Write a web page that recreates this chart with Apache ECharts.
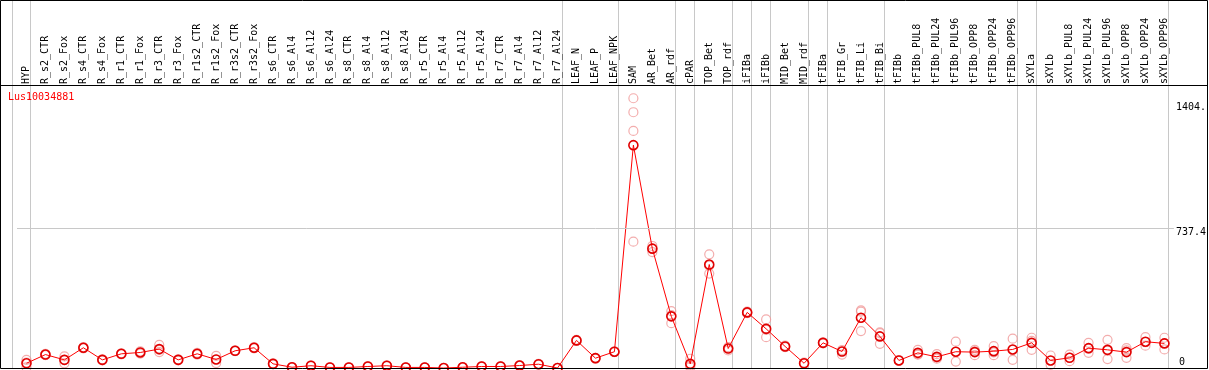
<!DOCTYPE html>
<html>
<head>
<meta charset="utf-8">
<script src="https://cdn.jsdelivr.net/npm/echarts@6/dist/echarts.min.js"></script>
<style>
  html, body { margin: 0; padding: 0; background: #fff; }
  #chart { width: 1209px; height: 370px; }
</style>
</head>
<body>
<div id="chart"></div>
<script>
// categories (samples)
const categories = ['HYP', 'R_s2_CTR', 'R_s2_Fox', 'R_s4_CTR', 'R_s4_Fox', 'R_r1_CTR', 'R_r1_Fox', 'R_r3_CTR', 'R_r3_Fox',
  'R_r1s2_CTR', 'R_r1s2_Fox', 'R_r3s2_CTR', 'R_r3s2_Fox', 'R_s6_CTR', 'R_s6_Al4', 'R_s6_Al12', 'R_s6_Al24',
  'R_s8_CTR', 'R_s8_Al4', 'R_s8_Al12', 'R_s8_Al24', 'R_r5_CTR', 'R_r5_Al4', 'R_r5_Al12', 'R_r5_Al24',
  'R_r7_CTR', 'R_r7_Al4', 'R_r7_Al12', 'R_r7_Al24', 'LEAF_N', 'LEAF_P', 'LEAF_NPK', 'SAM', 'AR_Bet', 'AR_rdf',
  'cPAR', 'TOP_Bet', 'TOP_rdf', 'iFIBa', 'iFIBb', 'MID_Bet', 'MID_rdf', 'tFIBa', 'tFIB_Gr', 'tFIB_Li', 'tFIB_Bi',
  'tFIBb', 'tFIBb_PUL8', 'tFIBb_PUL24', 'tFIBb_PUL96', 'tFIBb_OPP8', 'tFIBb_OPP24', 'tFIBb_OPP96',
  'sXYLa', 'sXYLb', 'sXYLb_PUL8', 'sXYLb_PUL24', 'sXYLb_PUL96', 'sXYLb_OPP8', 'sXYLb_OPP24', 'sXYLb_OPP96'];

// mean expression per sample
const means = [25, 71, 43, 107, 43, 75, 82, 100, 43, 75, 45, 91, 107, 22, 4, 12, 3, 3, 8, 12, 3, 3, 0, 4, 8, 8, 13, 20, 0,
  146, 52, 86, 1178, 631, 273, 22, 547, 103, 294, 207, 114, 25, 133, 87, 266, 167,
  40, 80, 59, 86, 84, 89, 98, 133, 40, 54, 105, 96, 84, 139, 130];

// replicate values per sample
const replicates = [
  [43, 28, 4], [68, 71, 75], [61, 43, 25], [104, 107, 110], [40, 43, 46], [72, 75, 78], [88, 82, 76], [122, 96, 84],
  [40, 43, 46], [70, 75, 80], [64, 45, 26], [89, 91, 93], [104, 107, 110], [20, 22, 24], [3, 4, 5], [10, 12, 14],
  [2, 3, 4], [2, 3, 4], [6, 8, 10], [10, 12, 14], [2, 3, 4], [2, 3, 4], [0, 0, 1], [3, 4, 5], [6, 8, 10], [6, 8, 10],
  [11, 13, 15], [18, 20, 22], [0, 0, 1],
  [143, 146, 149], [50, 52, 54], [84, 86, 88], [1426, 1352, 1253, 668], [645, 631, 613], [301, 280, 237],
  [49, 13, 4], [601, 541, 499], [110, 103, 93], [298, 294, 290], [257, 201, 163], [118, 114, 110], [28, 25, 22],
  [136, 133, 130], [95, 87, 71], [305, 298, 195], [184, 189, 128],
  [38, 40, 42], [96, 73, 71], [73, 55, 49], [139, 85, 34], [96, 88, 68], [116, 83, 68], [155, 96, 43],
  [160, 143, 96], [66, 37, 17], [71, 55, 36], [133, 102, 80], [149, 92, 47], [105, 93, 54], [163, 136, 118],
  [160, 132, 98]
];

// group separators: drawn just right of these samples ('' = before the first one)
const separatorsAfter = ['', 'HYP', 'R_r7_Al24', 'LEAF_NPK', 'AR_rdf', 'cPAR', 'TOP_rdf', 'iFIBa', 'iFIBb',
  'MID_rdf', 'tFIBa', 'tFIB_Bi', 'tFIBb_OPP96', 'sXYLa', 'sXYLb_OPP96'];

const yMax = 1474.8;
const yMid = 737.4;
const yTop = 1404;

const FONT = 'DejaVu Sans Mono';

const repData = [];
replicates.forEach((vals, i) => vals.forEach(v => repData.push([i, v])));

const chart = echarts.init(document.getElementById('chart'));

const option = {
  animation: false,
  backgroundColor: '#fff',
  title: {
    text: 'Lus10034881',
    left: 8,
    top: 92,
    padding: 0,
    textStyle: { color: '#ff0000', fontSize: 10, fontWeight: 'normal', fontFamily: FONT }
  },
  grid: { left: 17, top: 89, width: 1159, height: 279 },
  xAxis: {
    type: 'category',
    position: 'top',
    data: categories,
    boundaryGap: true,
    axisLine: { show: false },
    axisTick: { show: false },
    splitLine: { show: false },
    axisLabel: {
      rotate: 90,
      interval: 0,
      margin: 5,
      color: '#000',
      fontSize: 10,
      fontFamily: FONT
    }
  },
  yAxis: [
    {
      type: 'value',
      position: 'right',
      min: 0,
      max: yMax,
      interval: yMid,
      axisLine: { show: false },
      axisTick: { show: false },
      splitLine: { show: false },
      axisLabel: {
        margin: 2,
        color: '#000',
        fontSize: 10,
        fontFamily: FONT,
        formatter: v => v === 0 ? '{b|0}' : (Math.abs(v - yMid) < 0.01 ? '{a|737.4}' : ''),
        rich: {
          a: { fontSize: 10, fontFamily: FONT, color: '#000', padding: [8, 0, 0, 0] },
          b: { fontSize: 10, fontFamily: FONT, color: '#000', padding: [0, 0, 12, 3] }
        }
      }
    },
    {
      type: 'value',
      position: 'right',
      min: 0,
      max: yMax,
      interval: yTop,
      axisLine: { show: false },
      axisTick: { show: false },
      splitLine: { show: false },
      axisLabel: {
        margin: 2,
        color: '#000',
        fontSize: 10,
        fontFamily: FONT,
        formatter: v => v === yTop ? '{a|1404.}' : '',
        rich: {
          a: { fontSize: 10, fontFamily: FONT, color: '#000', padding: [10, 0, 0, 0] }
        }
      }
    }
  ],
  series: [
    {
      name: 'replicates',
      type: 'scatter',
      data: repData,
      symbol: 'circle',
      symbolSize: 9,
      z: 2,
      silent: true,
      itemStyle: { color: 'rgba(0,0,0,0)', borderColor: '#f09898', borderWidth: 1.2 }
    },
    {
      name: 'mean',
      type: 'line',
      data: means,
      symbol: 'circle',
      symbolSize: 9,
      showAllSymbol: true,
      z: 3,
      silent: true,
      lineStyle: { color: '#ff0000', width: 1 },
      itemStyle: { color: 'rgba(0,0,0,0)', borderColor: '#e00000', borderWidth: 1.6 },
      markLine: {
        silent: true,
        symbol: 'none',
        label: { show: false },
        lineStyle: { color: '#c8c8c8', width: 1, type: 'solid' },
        data: [{ yAxis: yMid }]
      }
    }
  ]
};

chart.setOption(option);

// frame, header rule and group separators (positioned from the category axis)
const x0 = chart.convertToPixel({ xAxisIndex: 0 }, 0);
const bw = chart.convertToPixel({ xAxisIndex: 0 }, 1) - x0;
const graphics = separatorsAfter.map(name => {
  const k = name === '' ? -1 : categories.indexOf(name);
  const x = Math.round(x0 + bw * k + 4) + 0.5;
  return {
    type: 'line', silent: true, z: 0,
    shape: { x1: x, y1: 0, x2: x, y2: 368 },
    style: { stroke: '#c8c8c8', lineWidth: 1 }
  };
});
graphics.push({
  type: 'line', silent: true, z: 10,
  shape: { x1: 0, y1: 85.5, x2: 1208, y2: 85.5 },
  style: { stroke: '#000', lineWidth: 1 }
});
graphics.push({
  type: 'rect', silent: true, z: 10,
  shape: { x: 0.5, y: 0.5, width: 1207, height: 368 },
  style: { fill: 'none', stroke: '#000', lineWidth: 1 }
});
chart.setOption({ graphic: graphics });
</script>
</body>
</html>
